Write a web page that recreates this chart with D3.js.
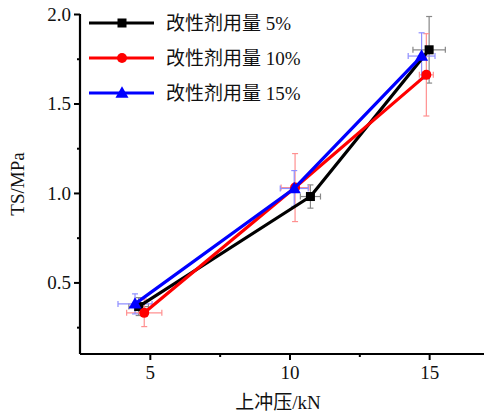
<!DOCTYPE html>
<html>
<head>
<meta charset="utf-8">
<script src="https://cdn.jsdelivr.net/npm/d3@7"></script>
<style>
  html, body { margin: 0; padding: 0; background: #fff; }
  svg { display: block; }
  text { font-family: "Liberation Serif", "Noto Sans CJK SC", serif; fill: #111; }
</style>
</head>
<body>
<div id="chart"></div>
<script>
// data
const seriesNames = ["改性剂用量 5%", "改性剂用量 10%", "改性剂用量 15%"];
const seriesColors = ["#000000", "#ff0000", "#0000ff"];
const errColors = ["#888888", "#ff9090", "#8f8fff"];
const seriesShapes = ["square", "circle", "triangle"];

const xBlack = [4.6, 10.75, 15.0];
const yBlack = [0.365, 0.98, 1.80];
const xErrBlack = [0.35, 0.36, 0.58];
const yErrBlack = [0.05, 0.065, 0.186];

const xRed = [4.8, 10.2, 14.9];
const yRed = [0.33, 1.03, 1.66];
const xErrRed = [0.63, 0.5, 0.25];
const yErrRed = [0.077, 0.19, 0.23];

const xBlue = [4.47, 10.17, 14.73];
const yBlue = [0.38, 1.025, 1.765];
const xErrBlue = [0.61, 0.5, 0.48];
const yErrBlue = [0.056, 0.1, 0.13];

const xTicks = [5, 10, 15];
const xMinorTicks = [7.5, 12.5];
const yTicks = [0.5, 1.0, 1.5, 2.0];
const yMinorTicks = [0.25, 0.75, 1.25, 1.75];

const xLabel = "上冲压/kN";
const yLabel = "TS/MPa";

const allSeries = [
  { x: xBlack, y: yBlack, xe: xErrBlack, ye: yErrBlack },
  { x: xRed, y: yRed, xe: xErrRed, ye: yErrRed },
  { x: xBlue, y: yBlue, xe: xErrBlue, ye: yErrBlue }
].map((s, i) => ({
  name: seriesNames[i],
  color: seriesColors[i],
  errColor: errColors[i],
  shape: seriesShapes[i],
  points: s.x.map((v, j) => ({ x: v, y: s.y[j], xe: s.xe[j], ye: s.ye[j] }))
}));

const width = 484, height = 412;
const margin = { top: 14, right: 0, bottom: 58, left: 80 };

const x = d3.scaleLinear().domain([2.5, 17]).range([margin.left, 485]);
const y = d3.scaleLinear().domain([0.1, 2.0]).range([height - margin.bottom, margin.top]);

const svg = d3.select("#chart").append("svg")
  .attr("width", width)
  .attr("height", height);

// axes
const xAxis = svg.append("g")
  .attr("transform", `translate(0,${y(0.1)})`)
  .call(d3.axisBottom(x).tickValues(xTicks).tickSize(6).tickPadding(6).tickFormat(d3.format("d")));
xAxis.select(".domain").attr("stroke-width", 2.2).attr("d", `M${margin.left},0H${width}`);
xAxis.selectAll(".tick line").attr("stroke-width", 2);
xAxis.selectAll(".tick text").style("font-size", "19px").attr("fill", "#111");

svg.append("g")
  .attr("transform", `translate(0,${y(0.1)})`)
  .call(d3.axisBottom(x).tickValues(xMinorTicks).tickSize(3).tickFormat(""))
  .call(g => g.select(".domain").remove())
  .selectAll(".tick line").attr("stroke-width", 2);

const yAxis = svg.append("g")
  .attr("transform", `translate(${margin.left},0)`)
  .call(d3.axisLeft(y).tickValues(yTicks).tickSize(6).tickPadding(3).tickFormat(d3.format(".1f")));
yAxis.select(".domain").attr("stroke-width", 2.2).attr("d", `M0,${y(2.0)}V${y(0.1)}`);
yAxis.selectAll(".tick line").attr("stroke-width", 2);
yAxis.selectAll(".tick text").style("font-size", "19px").attr("fill", "#111");

svg.append("g")
  .attr("transform", `translate(${margin.left},0)`)
  .call(d3.axisLeft(y).tickValues(yMinorTicks).tickSize(3).tickFormat(""))
  .call(g => g.select(".domain").remove())
  .selectAll(".tick line").attr("stroke-width", 2);

// axis labels
svg.append("text")
  .attr("x", 278)
  .attr("y", 409)
  .attr("text-anchor", "middle")
  .style("font-size", "19px")
  .text(xLabel);

svg.append("text")
  .attr("transform", `translate(24,${y(1.05)}) rotate(-90)`)
  .attr("text-anchor", "middle")
  .style("font-size", "19px")
  .text(yLabel);

// marker drawing
function marker(g, shape, color, size) {
  if (shape === "square") {
    g.append("rect").attr("x", -size / 2).attr("y", -size / 2)
      .attr("width", size).attr("height", size).attr("fill", color);
  } else if (shape === "circle") {
    g.append("circle").attr("r", size / 2 + 0.5).attr("fill", color);
  } else {
    const s = size * 1.25;
    g.append("path")
      .attr("d", `M0,${-s * 0.6}L${s * 0.58},${s * 0.42}L${-s * 0.58},${s * 0.42}Z`)
      .attr("fill", color);
  }
}

// error bars
allSeries.forEach(s => {
  const g = svg.append("g").attr("stroke", s.errColor).attr("stroke-width", 1.2).attr("fill", "none");
  s.points.forEach(p => {
    const cx = x(p.x), cy = y(p.y);
    const cap = 3;
    g.append("line").attr("x1", cx).attr("x2", cx).attr("y1", y(p.y - p.ye)).attr("y2", y(p.y + p.ye));
    g.append("line").attr("x1", cx - cap).attr("x2", cx + cap).attr("y1", y(p.y - p.ye)).attr("y2", y(p.y - p.ye));
    g.append("line").attr("x1", cx - cap).attr("x2", cx + cap).attr("y1", y(p.y + p.ye)).attr("y2", y(p.y + p.ye));
    g.append("line").attr("x1", x(p.x - p.xe)).attr("x2", x(p.x + p.xe)).attr("y1", cy).attr("y2", cy);
    g.append("line").attr("x1", x(p.x - p.xe)).attr("x2", x(p.x - p.xe)).attr("y1", cy - cap).attr("y2", cy + cap);
    g.append("line").attr("x1", x(p.x + p.xe)).attr("x2", x(p.x + p.xe)).attr("y1", cy - cap).attr("y2", cy + cap);
  });
});

// lines and markers
const line = d3.line().x(d => x(d.x)).y(d => y(d.y));
allSeries.forEach(s => {
  svg.append("path")
    .datum(s.points)
    .attr("d", line)
    .attr("fill", "none")
    .attr("stroke", s.color)
    .attr("stroke-width", 3.2)
    .attr("stroke-linejoin", "round");
  s.points.forEach(p => {
    const g = svg.append("g").attr("transform", `translate(${x(p.x)},${y(p.y)})`);
    marker(g, s.shape, s.color, 9);
  });
});

// legend
const legend = svg.append("g");
allSeries.forEach((s, i) => {
  const ly = 23 + i * 35;
  legend.append("line")
    .attr("x1", 89).attr("x2", 154).attr("y1", ly).attr("y2", ly)
    .attr("stroke", s.color).attr("stroke-width", 3.2);
  const g = legend.append("g").attr("transform", `translate(122,${ly})`);
  marker(g, s.shape, s.color, 9);
  legend.append("text")
    .attr("x", 166).attr("y", ly + 7)
    .style("font-size", "19px")
    .text(s.name);
});
</script>
</body>
</html>
